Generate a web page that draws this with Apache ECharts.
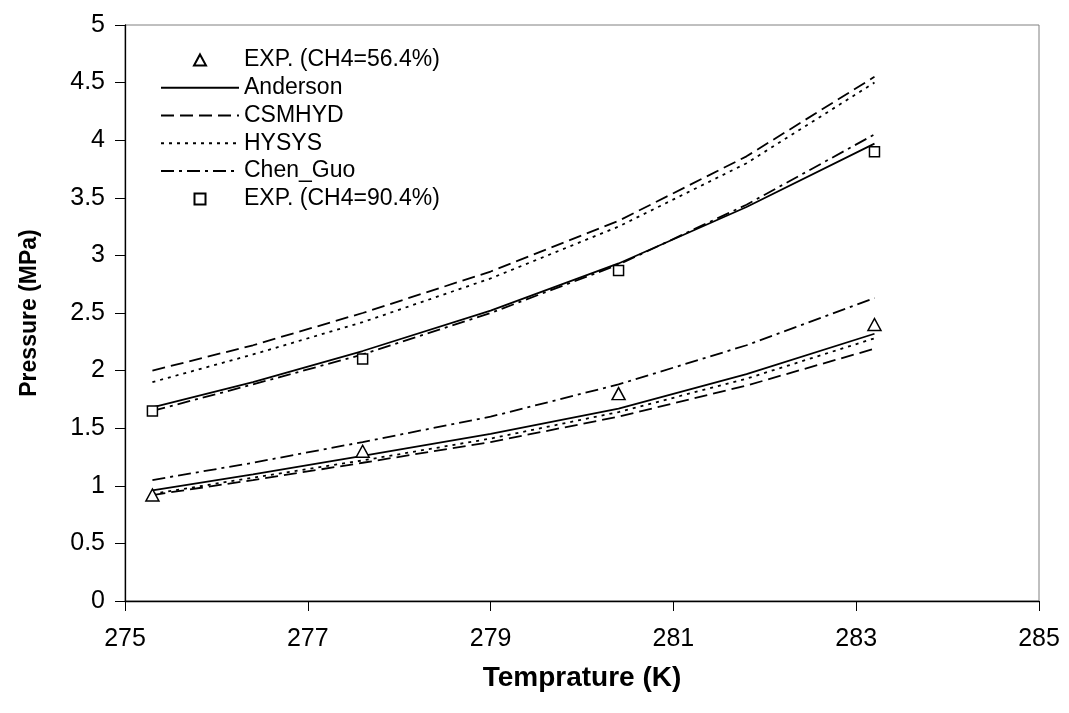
<!DOCTYPE html>
<html>
<head>
<meta charset="utf-8">
<script src="https://cdn.jsdelivr.net/npm/echarts@6/dist/echarts.min.js"></script>
<style>
html,body{margin:0;padding:0;background:#fff;}
#chart{width:1069px;height:713px;}
</style>
</head>
<body>
<div id="chart"></div>
<script>
// Data
const modelTemps = [275.3, 276.4, 277.6, 279.0, 280.4, 281.8, 283.2];
const expTemps = [275.3, 277.6, 280.4, 283.2];
const exp564 = [0.92, 1.30, 1.80, 2.40];
const exp904 = [1.65, 2.10, 2.87, 3.90];

const anderson904 = [1.68, 1.90, 2.17, 2.52, 2.93, 3.42, 3.97];
const csmhyd904   = [2.00, 2.22, 2.50, 2.86, 3.30, 3.86, 4.55];
const hysys904    = [1.90, 2.14, 2.42, 2.80, 3.25, 3.80, 4.50];
const chenguo904  = [1.65, 1.88, 2.14, 2.50, 2.92, 3.44, 4.05];

const anderson564 = [0.96, 1.10, 1.26, 1.45, 1.67, 1.97, 2.32];
const csmhyd564   = [0.92, 1.05, 1.20, 1.38, 1.60, 1.87, 2.19];
const hysys564    = [0.93, 1.07, 1.22, 1.41, 1.64, 1.93, 2.28];
const chenguo564  = [1.05, 1.20, 1.38, 1.60, 1.88, 2.22, 2.63];

const xTicks = [275, 277, 279, 281, 283, 285];
const legendNames = ['EXP. (CH4=56.4%)', 'Anderson', 'CSMHYD', 'HYSYS', 'Chen_Guo', 'EXP. (CH4=90.4%)'];

const pair = (xs, ys) => xs.map((x, i) => [x, ys[i]]);
const FONT = 'Liberation Sans, Arial, sans-serif';

const lineStyles = {
  'Anderson': { type: 'solid' },
  'CSMHYD': { type: [13, 6] },
  'HYSYS': { type: [3, 5] },
  'Chen_Guo': { type: [13, 5, 3, 5] }
};
function lineSeries(name, ys) {
  return {
    name: name, type: 'line', data: pair(modelTemps, ys), symbol: 'none',
    smooth: false, silent: true, z: 2,
    lineStyle: Object.assign({ color: '#000', width: 1.8 }, lineStyles[name]),
    itemStyle: { color: '#000' }
  };
}
const hiddenIcon = { color: 'rgba(0,0,0,0)', borderColor: 'rgba(0,0,0,0)', borderWidth: 0, opacity: 0 };

const chart = echarts.init(document.getElementById('chart'), null, { renderer: 'canvas' });
chart.setOption({
  animation: false,
  backgroundColor: '#fff',
  grid: { left: 125, right: 30, top: 25, bottom: 112, show: true, borderColor: '#808080', borderWidth: 1, backgroundColor: 'transparent' },
  legend: {
    orient: 'vertical', left: 160, top: 46, padding: 0,
    itemWidth: 78, itemHeight: 11, itemGap: 0,
    symbolKeepAspect: true,
    textStyle: { fontFamily: FONT, fontSize: 23, color: '#000', lineHeight: 27.8 },
    data: [
      { name: legendNames[0], icon: 'path://M6,0 L12,11 L0,11 Z' },
      { name: legendNames[1], itemStyle: hiddenIcon },
      { name: legendNames[2], itemStyle: hiddenIcon },
      { name: legendNames[3], itemStyle: hiddenIcon },
      { name: legendNames[4], itemStyle: hiddenIcon },
      { name: legendNames[5], icon: 'path://M0,0 L10,0 L10,10 L0,10 Z' }
    ]
  },
  xAxis: {
    type: 'value', min: 275, max: 285, interval: 2,
    name: 'Temprature (K)', nameLocation: 'middle', nameGap: 63,
    nameTextStyle: { fontFamily: FONT, fontSize: 28, fontWeight: 'bold', color: '#000' },
    axisLine: { show: true, onZero: false, lineStyle: { color: '#000', width: 1.3 } },
    axisTick: { show: true, inside: false, length: 10, lineStyle: { color: '#000', width: 1 } },
    axisLabel: { fontFamily: FONT, fontSize: 25, color: '#000', margin: 26,
      formatter: v => (xTicks.indexOf(v) >= 0 ? String(v) : '') },
    splitLine: { show: false }
  },
  yAxis: {
    type: 'value', min: 0, max: 5, interval: 0.5,
    name: 'Pressure (MPa)', nameLocation: 'middle', nameGap: 84,
    nameTextStyle: { fontFamily: FONT, fontSize: 23, fontWeight: 'bold', color: '#000' },
    axisLine: { show: true, onZero: false, lineStyle: { color: '#000', width: 1.3 } },
    axisTick: { show: true, inside: false, length: 10, lineStyle: { color: '#000', width: 1 } },
    axisLabel: { fontFamily: FONT, fontSize: 25, color: '#000', margin: 20 },
    splitLine: { show: false }
  },
  series: [
    {
      name: legendNames[0], type: 'scatter', data: pair(expTemps, exp564),
      symbol: 'triangle', symbolSize: [13, 12], z: 5,
      itemStyle: { color: '#fff', borderColor: '#000', borderWidth: 1.5, opacity: 1 }
    },
    lineSeries('Anderson', anderson564),
    lineSeries('CSMHYD', csmhyd564),
    lineSeries('HYSYS', hysys564),
    lineSeries('Chen_Guo', chenguo564),
    lineSeries('Anderson', anderson904),
    lineSeries('CSMHYD', csmhyd904),
    lineSeries('HYSYS', hysys904),
    lineSeries('Chen_Guo', chenguo904),
    {
      name: legendNames[5], type: 'scatter', data: pair(expTemps, exp904),
      symbol: 'rect', symbolSize: 10, z: 5,
      itemStyle: { color: '#fff', borderColor: '#000', borderWidth: 1.5, opacity: 1 }
    }
  ]
});
</script>
</body>
</html>
